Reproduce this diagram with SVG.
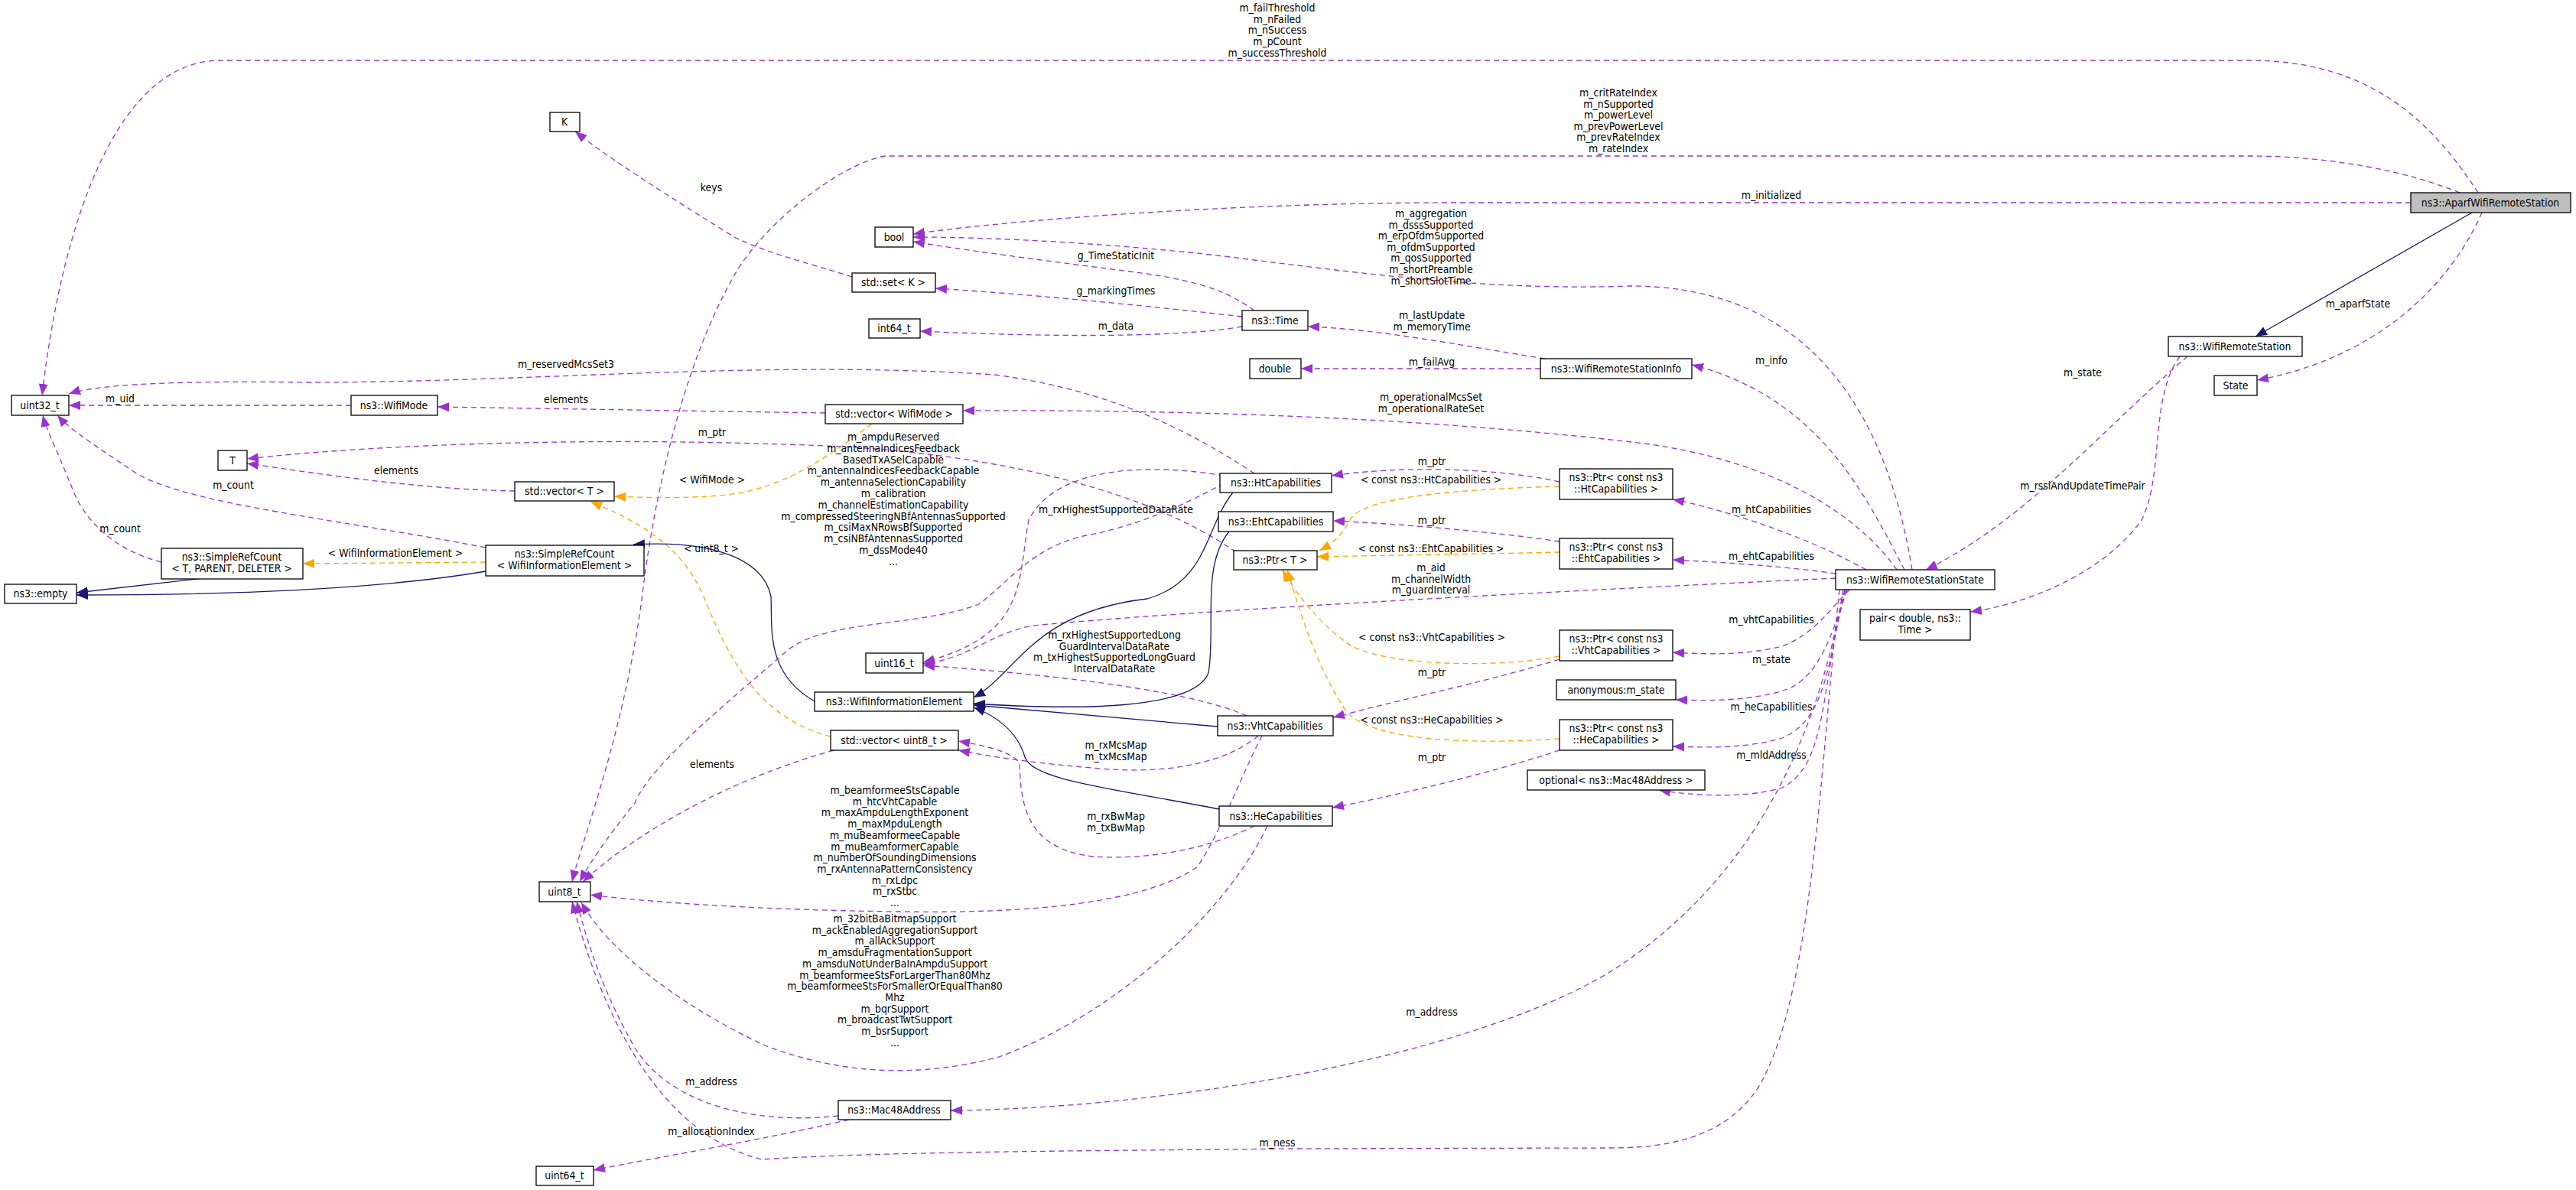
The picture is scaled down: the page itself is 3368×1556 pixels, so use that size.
<svg xmlns="http://www.w3.org/2000/svg" width="3368" height="1556" viewBox="0 0 3368 1556">
<style>
text{font-family:"DejaVu Sans Condensed","DejaVu Sans",sans-serif;font-size:13.9px;fill:#000}
.n rect{fill:#fff;stroke:#000;stroke-width:1.3}
.n text{text-anchor:middle}
.l{text-anchor:middle}
.e{fill:none;stroke:#9a32cd;stroke-width:1.3;stroke-dasharray:7,5;marker-end:url(#mp)}
.o{fill:none;stroke:#ffa500;stroke-width:1.3;stroke-dasharray:7,5;marker-end:url(#mo)}
.i{fill:none;stroke:#191970;stroke-width:1.3;marker-end:url(#mi)}
</style>
<defs>
<marker id="mp" markerUnits="userSpaceOnUse" markerWidth="16" markerHeight="12" refX="15" refY="6" orient="auto"><path d="M0,0 L15,6 L0,12 Z" fill="#9a32cd"/></marker>
<marker id="mo" markerUnits="userSpaceOnUse" markerWidth="16" markerHeight="12" refX="15" refY="6" orient="auto"><path d="M0,0 L15,6 L0,12 Z" fill="#ffa500"/></marker>
<marker id="mi" markerUnits="userSpaceOnUse" markerWidth="16" markerHeight="12" refX="15" refY="6" orient="auto"><path d="M0,0 L15,6 L0,12 Z" fill="#191970"/></marker>
</defs>
<rect width="3368" height="1556" fill="#fff"/>
<g id="edges">
<path class="e" d="M3240,252 C3180,160 3100,79 2941,79 L288,79 C150,79 80,300 55,517"/>
<path class="e" d="M3216,252 C3150,225 3050,204 2941,204 L1157,204 C1100,214 1000,290 960,360 C880,500 850,700 842,760 C820,950 760,1100 748,1153"/>
<path class="e" d="M3152,265 L1900,265 C1600,265 1300,290 1194,306"/>
<path class="i" d="M3232,278 L2949,440"/>
<path class="e" d="M3245,278 C3200,380 3100,470 2951,497"/>
<path class="e" d="M2860,466 C2750,560 2650,680 2518,745"/>
<path class="e" d="M2850,466 C2810,520 2830,620 2800,680 C2750,750 2650,790 2576,800"/>
<path class="e" d="M2490,745 C2440,650 2380,520 2212,477"/>
<path class="e" d="M2500,745 C2470,560 2380,374 2132,374 C1950,380 1800,360 1600,335 C1450,318 1300,310 1194,310"/>
<path class="e" d="M2480,745 C2420,660 2300,600 2150,580 C1900,550 1600,535 1259,537"/>
<path class="e" d="M2440,745 C2360,700 2250,665 2187,653"/>
<path class="e" d="M2400,750 C2330,740 2250,735 2187,732"/>
<path class="e" d="M2400,756 C2100,770 1600,795 1350,818 C1290,830 1270,860 1207,868"/>
<path class="e" d="M1600,622 C1500,605 1380,610 1345,680 C1330,760 1345,830 1207,866"/>
<path class="e" d="M1630,936 C1550,900 1350,880 1207,870"/>
<path class="e" d="M1640,619 C1550,560 1450,510 1300,490 C1000,470 700,500 400,500 C200,497 120,505 90,515"/>
<path class="e" d="M1616,722 C1500,640 1300,595 1100,584 C800,570 500,580 323,600"/>
<path class="e" d="M673,642 C550,640 420,620 323,606"/>
<path class="e" d="M459,530 L90,530"/>
<path class="e" d="M1079,540 L572,532"/>
<path class="e" d="M635,716 C450,680 250,660 180,620 C120,580 90,560 75,543"/>
<path class="e" d="M211,735 C150,720 110,680 95,640 C75,590 60,560 56,543"/>
<path class="i" d="M301,752 L100,775"/>
<path class="i" d="M635,747 C500,770 300,778 100,778"/>
<path class="o" d="M635,735 L396,737"/>
<path class="o" d="M1140,554 C1080,600 1020,640 950,647 C900,652 850,651 803,649"/>
<path class="o" d="M1086,963 C1000,940 960,880 920,780 C890,710 830,680 772,656"/>
<path class="i" d="M1065,917 C1000,880 1010,820 1008,780 C1000,740 950,705 828,712"/>
<path class="i" d="M1612,644 C1575,690 1580,760 1500,783 C1350,800 1330,880 1273,912"/>
<path class="i" d="M1607,695 C1570,740 1590,820 1580,880 C1560,930 1400,928 1273,920"/>
<path class="i" d="M1592,950 L1273,922"/>
<path class="i" d="M1594,1058 C1450,1030 1350,1020 1340,990 C1330,955 1300,935 1273,925"/>
<path class="e" d="M2039,630 C1950,610 1820,610 1741,622"/>
<path class="o" d="M2039,636 C1900,640 1780,650 1765,680 C1755,700 1740,712 1725,720"/>
<path class="e" d="M2039,708 C1950,695 1830,685 1743,681"/>
<path class="o" d="M2039,722 C1950,724 1820,726 1722,728"/>
<path class="o" d="M2039,858 C1950,875 1800,870 1760,840 C1720,810 1690,770 1677,745"/>
<path class="o" d="M2039,966 C1900,975 1790,965 1760,930 C1720,870 1700,800 1683,745"/>
<path class="e" d="M2039,862 C1950,890 1850,910 1743,938"/>
<path class="e" d="M2039,981 C1950,1010 1850,1035 1742,1056"/>
<path class="e" d="M2418,771 C2390,800 2370,830 2330,845 C2280,858 2220,855 2187,853"/>
<path class="e" d="M2415,771 C2395,830 2380,880 2340,900 C2290,918 2230,916 2191,915"/>
<path class="e" d="M2413,771 C2390,860 2390,940 2330,965 C2280,980 2220,977 2187,976"/>
<path class="e" d="M2412,771 C2380,900 2390,1000 2330,1030 C2280,1045 2210,1040 2169,1033"/>
<path class="e" d="M2410,771 C2380,950 2300,1150 2100,1274 C1900,1390 1500,1450 1243,1452"/>
<path class="e" d="M2405,771 C2380,1000 2370,1300 2300,1420 C2250,1500 2150,1501 2100,1501 L1689,1502 C1400,1505 1150,1506 996,1516 C850,1480 780,1300 748,1179"/>
<path class="e" d="M1096,1459 C1000,1470 880,1450 830,1370 C790,1300 770,1240 754,1179"/>
<path class="e" d="M1110,1464 C1000,1490 850,1515 776,1530"/>
<path class="e" d="M1090,981 C950,1020 830,1090 762,1153"/>
<path class="e" d="M1645,962 C1600,1000 1520,1012 1440,1005 C1350,998 1300,990 1253,981"/>
<path class="e" d="M1640,1080 C1580,1110 1500,1125 1430,1120 C1340,1110 1335,1050 1333,1000 C1330,985 1290,975 1253,969"/>
<path class="e" d="M1650,962 C1620,1020 1600,1080 1566,1133 C1500,1180 1350,1195 1176,1192 C1000,1190 850,1180 772,1170"/>
<path class="e" d="M1657,1080 C1600,1200 1450,1330 1306,1382 C1200,1410 1100,1405 1000,1367 C900,1320 800,1250 760,1180"/>
<path class="e" d="M1600,632 C1550,660 1480,690 1420,700 C1350,715 1320,760 1280,790 C1200,820 1080,810 1030,850 C950,920 850,1000 830,1050 C790,1100 770,1130 758,1153"/>
<path class="e" d="M1114,362 C1060,345 1000,330 960,310 C880,260 800,210 752,172"/>
<path class="e" d="M1640,406 C1610,385 1580,370 1500,358 C1400,345 1280,330 1194,316"/>
<path class="e" d="M1624,414 C1500,400 1350,385 1223,377"/>
<path class="e" d="M1624,427 C1550,440 1400,442 1203,433"/>
<path class="e" d="M2020,469 C1900,450 1800,430 1710,427"/>
<path class="e" d="M2014,482 L1701,482"/>
</g>
<g id="labels">
<text class="l" x="1670" y="15">m_failThreshold<tspan x="1670" dy="14.7">m_nFailed</tspan><tspan x="1670" dy="14.7">m_nSuccess</tspan><tspan x="1670" dy="14.7">m_pCount</tspan><tspan x="1670" dy="14.7">m_successThreshold</tspan></text>
<text class="l" x="2116" y="126">m_critRateIndex<tspan x="2116" dy="14.6">m_nSupported</tspan><tspan x="2116" dy="14.6">m_powerLevel</tspan><tspan x="2116" dy="14.6">m_prevPowerLevel</tspan><tspan x="2116" dy="14.6">m_prevRateIndex</tspan><tspan x="2116" dy="14.6">m_rateIndex</tspan></text>
<text class="l" x="2316" y="260">m_initialized</text>
<text class="l" x="930" y="250">keys</text>
<text class="l" x="1871" y="284">m_aggregation<tspan x="1871" dy="14.6">m_dsssSupported</tspan><tspan x="1871" dy="14.6">m_erpOfdmSupported</tspan><tspan x="1871" dy="14.6">m_ofdmSupported</tspan><tspan x="1871" dy="14.6">m_qosSupported</tspan><tspan x="1871" dy="14.6">m_shortPreamble</tspan><tspan x="1871" dy="14.6">m_shortSlotTime</tspan></text>
<text class="l" x="1459" y="339">g_TimeStaticInit</text>
<text class="l" x="1459" y="385">g_markingTimes</text>
<text class="l" x="1459" y="431">m_data</text>
<text class="l" x="1872" y="417">m_lastUpdate<tspan x="1872" dy="14.7">m_memoryTime</tspan></text>
<text class="l" x="1872" y="478">m_failAvg</text>
<text class="l" x="2316" y="476">m_info</text>
<text class="l" x="3083" y="402">m_aparfState</text>
<text class="l" x="2723" y="492">m_state</text>
<text class="l" x="740" y="481">m_reservedMcsSet3</text>
<text class="l" x="157" y="526">m_uid</text>
<text class="l" x="740" y="527">elements</text>
<text class="l" x="1871" y="524">m_operationalMcsSet<tspan x="1871" dy="14.7">m_operationalRateSet</tspan></text>
<text class="l" x="931" y="570">m_ptr</text>
<text class="l" x="1168" y="576">m_ampduReserved<tspan x="1168" dy="14.8">m_antennaIndicesFeedback</tspan><tspan x="1168" dy="14.8">BasedTxASelCapable</tspan><tspan x="1168" dy="14.8">m_antennaIndicesFeedbackCapable</tspan><tspan x="1168" dy="14.8">m_antennaSelectionCapability</tspan><tspan x="1168" dy="14.8">m_calibration</tspan><tspan x="1168" dy="14.8">m_channelEstimationCapability</tspan><tspan x="1168" dy="14.8">m_compressedSteeringNBfAntennasSupported</tspan><tspan x="1168" dy="14.8">m_csiMaxNRowsBfSupported</tspan><tspan x="1168" dy="14.8">m_csiNBfAntennasSupported</tspan><tspan x="1168" dy="14.8">m_dssMode40</tspan><tspan x="1168" dy="14.8">...</tspan></text>
<text class="l" x="518" y="620">elements</text>
<text class="l" x="931" y="632">&lt; WifiMode &gt;</text>
<text class="l" x="305" y="639">m_count</text>
<text class="l" x="157" y="696">m_count</text>
<text class="l" x="1872" y="608">m_ptr</text>
<text class="l" x="1871" y="632">&lt; const ns3::HtCapabilities &gt;</text>
<text class="l" x="2723" y="640">m_rssiAndUpdateTimePair</text>
<text class="l" x="1459" y="671">m_rxHighestSupportedDataRate</text>
<text class="l" x="2316" y="671">m_htCapabilities</text>
<text class="l" x="1872" y="685">m_ptr</text>
<text class="l" x="1871" y="722">&lt; const ns3::EhtCapabilities &gt;</text>
<text class="l" x="930" y="722">&lt; uint8_t &gt;</text>
<text class="l" x="517" y="728">&lt; WifiInformationElement &gt;</text>
<text class="l" x="2316" y="732">m_ehtCapabilities</text>
<text class="l" x="1871" y="747">m_aid<tspan x="1871" dy="14.7">m_channelWidth</tspan><tspan x="1871" dy="14.7">m_guardInterval</tspan></text>
<text class="l" x="2316" y="815">m_vhtCapabilities</text>
<text class="l" x="1457" y="835">m_rxHighestSupportedLong<tspan x="1457" dy="14.5">GuardIntervalDataRate</tspan><tspan x="1457" dy="14.5">m_txHighestSupportedLongGuard</tspan><tspan x="1457" dy="14.5">IntervalDataRate</tspan></text>
<text class="l" x="1872" y="838">&lt; const ns3::VhtCapabilities &gt;</text>
<text class="l" x="2316" y="867">m_state</text>
<text class="l" x="1872" y="884">m_ptr</text>
<text class="l" x="2316" y="929">m_heCapabilities</text>
<text class="l" x="1872" y="946">&lt; const ns3::HeCapabilities &gt;</text>
<text class="l" x="1459" y="979">m_rxMcsMap<tspan x="1459" dy="14.5">m_txMcsMap</tspan></text>
<text class="l" x="2316" y="992">m_mldAddress</text>
<text class="l" x="1872" y="995">m_ptr</text>
<text class="l" x="931" y="1004">elements</text>
<text class="l" x="1170" y="1038">m_beamformeeStsCapable<tspan x="1170" dy="14.7">m_htcVhtCapable</tspan><tspan x="1170" dy="14.7">m_maxAmpduLengthExponent</tspan><tspan x="1170" dy="14.7">m_maxMpduLength</tspan><tspan x="1170" dy="14.7">m_muBeamformeeCapable</tspan><tspan x="1170" dy="14.7">m_muBeamformerCapable</tspan><tspan x="1170" dy="14.7">m_numberOfSoundingDimensions</tspan><tspan x="1170" dy="14.7">m_rxAntennaPatternConsistency</tspan><tspan x="1170" dy="14.7">m_rxLdpc</tspan><tspan x="1170" dy="14.7">m_rxStbc</tspan><tspan x="1170" dy="14.7">...</tspan></text>
<text class="l" x="1459" y="1072">m_rxBwMap<tspan x="1459" dy="14.7">m_txBwMap</tspan></text>
<text class="l" x="1170" y="1206">m_32bitBaBitmapSupport<tspan x="1170" dy="14.7">m_ackEnabledAggregationSupport</tspan><tspan x="1170" dy="14.7">m_allAckSupport</tspan><tspan x="1170" dy="14.7">m_amsduFragmentationSupport</tspan><tspan x="1170" dy="14.7">m_amsduNotUnderBaInAmpduSupport</tspan><tspan x="1170" dy="14.7">m_beamformeeStsForLargerThan80Mhz</tspan><tspan x="1170" dy="14.7">m_beamformeeStsForSmallerOrEqualThan80</tspan><tspan x="1170" dy="14.7">Mhz</tspan><tspan x="1170" dy="14.7">m_bqrSupport</tspan><tspan x="1170" dy="14.7">m_broadcastTwtSupport</tspan><tspan x="1170" dy="14.7">m_bsrSupport</tspan><tspan x="1170" dy="14.7">...</tspan></text>
<text class="l" x="1872" y="1328">m_address</text>
<text class="l" x="930" y="1419">m_address</text>
<text class="l" x="930" y="1484">m_allocationIndex</text>
<text class="l" x="1670" y="1499">m_ness</text>
</g>
<g id="n1" class="n"><rect x="3152" y="252" width="209" height="26" style="fill:#bfbfbf"/><text x="3256" y="270">ns3::AparfWifiRemoteStation</text></g>
<g id="n2" class="n"><rect x="2835" y="440" width="175" height="26"/><text x="2922" y="458">ns3::WifiRemoteStation</text></g>
<g id="n3" class="n"><rect x="2895" y="491" width="56" height="26"/><text x="2923" y="509">State</text></g>
<g id="n4" class="n"><rect x="2400" y="745" width="208" height="26"/><text x="2504" y="763">ns3::WifiRemoteStationState</text></g>
<g id="n5" class="n"><rect x="2432" y="797" width="144" height="40"/><text x="2504" y="813">pair&lt; double, ns3::</text><text x="2504" y="828">Time &gt;</text></g>
<g id="n6" class="n"><rect x="2014" y="469" width="198" height="26"/><text x="2113" y="487">ns3::WifiRemoteStationInfo</text></g>
<g id="n7" class="n"><rect x="1634" y="469" width="67" height="26"/><text x="1667" y="487">double</text></g>
<g id="n8" class="n"><rect x="1624" y="406" width="86" height="26"/><text x="1667" y="424">ns3::Time</text></g>
<g id="n9" class="n"><rect x="1144" y="297" width="50" height="26"/><text x="1169" y="315">bool</text></g>
<g id="n10" class="n"><rect x="1114" y="357" width="109" height="25"/><text x="1168" y="374">std::set&lt; K &gt;</text></g>
<g id="n11" class="n"><rect x="1136" y="417" width="67" height="25"/><text x="1169" y="434">int64_t</text></g>
<g id="n12" class="n"><rect x="719" y="147" width="39" height="25"/><text x="738" y="164">K</text></g>
<g id="n13" class="n"><rect x="15" y="517" width="75" height="26"/><text x="52" y="535">uint32_t</text></g>
<g id="n14" class="n"><rect x="459" y="517" width="113" height="26"/><text x="515" y="535">ns3::WifiMode</text></g>
<g id="n15" class="n"><rect x="1079" y="529" width="180" height="25"/><text x="1169" y="546">std::vector&lt; WifiMode &gt;</text></g>
<g id="n16" class="n"><rect x="285" y="589" width="38" height="26"/><text x="304" y="607">T</text></g>
<g id="n17" class="n"><rect x="673" y="630" width="130" height="25"/><text x="738" y="647">std::vector&lt; T &gt;</text></g>
<g id="n18" class="n"><rect x="211" y="717" width="185" height="40"/><text x="303" y="733">ns3::SimpleRefCount</text><text x="303" y="748">&lt; T, PARENT, DELETER &gt;</text></g>
<g id="n19" class="n"><rect x="635" y="713" width="207" height="40"/><text x="738" y="729">ns3::SimpleRefCount</text><text x="738" y="744">&lt; WifiInformationElement &gt;</text></g>
<g id="n20" class="n"><rect x="6" y="764" width="94" height="25"/><text x="53" y="781">ns3::empty</text></g>
<g id="n21" class="n"><rect x="1595" y="619" width="146" height="25"/><text x="1668" y="636">ns3::HtCapabilities</text></g>
<g id="n22" class="n"><rect x="1593" y="669" width="150" height="26"/><text x="1668" y="687">ns3::EhtCapabilities</text></g>
<g id="n23" class="n"><rect x="1613" y="720" width="109" height="25"/><text x="1667" y="737">ns3::Ptr&lt; T &gt;</text></g>
<g id="n24" class="n"><rect x="2039" y="613" width="148" height="40"/><text x="2113" y="629">ns3::Ptr&lt; const ns3</text><text x="2113" y="644">::HtCapabilities &gt;</text></g>
<g id="n25" class="n"><rect x="2039" y="704" width="148" height="40"/><text x="2113" y="720">ns3::Ptr&lt; const ns3</text><text x="2113" y="735">::EhtCapabilities &gt;</text></g>
<g id="n26" class="n"><rect x="2039" y="824" width="148" height="40"/><text x="2113" y="840">ns3::Ptr&lt; const ns3</text><text x="2113" y="855">::VhtCapabilities &gt;</text></g>
<g id="n27" class="n"><rect x="2035" y="889" width="156" height="26"/><text x="2113" y="907">anonymous:m_state</text></g>
<g id="n28" class="n"><rect x="2039" y="941" width="148" height="40"/><text x="2113" y="957">ns3::Ptr&lt; const ns3</text><text x="2113" y="972">::HeCapabilities &gt;</text></g>
<g id="n29" class="n"><rect x="1997" y="1007" width="232" height="26"/><text x="2113" y="1025">optional&lt; ns3::Mac48Address &gt;</text></g>
<g id="n30" class="n"><rect x="1132" y="854" width="75" height="26"/><text x="1169" y="872">uint16_t</text></g>
<g id="n31" class="n"><rect x="1065" y="905" width="208" height="25"/><text x="1169" y="922">ns3::WifiInformationElement</text></g>
<g id="n32" class="n"><rect x="1086" y="955" width="167" height="26"/><text x="1169" y="973">std::vector&lt; uint8_t &gt;</text></g>
<g id="n33" class="n"><rect x="1592" y="936" width="151" height="26"/><text x="1667" y="954">ns3::VhtCapabilities</text></g>
<g id="n34" class="n"><rect x="1594" y="1054" width="148" height="26"/><text x="1668" y="1072">ns3::HeCapabilities</text></g>
<g id="n35" class="n"><rect x="705" y="1153" width="67" height="26"/><text x="738" y="1171">uint8_t</text></g>
<g id="n36" class="n"><rect x="1096" y="1439" width="147" height="25"/><text x="1169" y="1456">ns3::Mac48Address</text></g>
<g id="n37" class="n"><rect x="701" y="1525" width="75" height="25"/><text x="738" y="1542">uint64_t</text></g>
</svg>
